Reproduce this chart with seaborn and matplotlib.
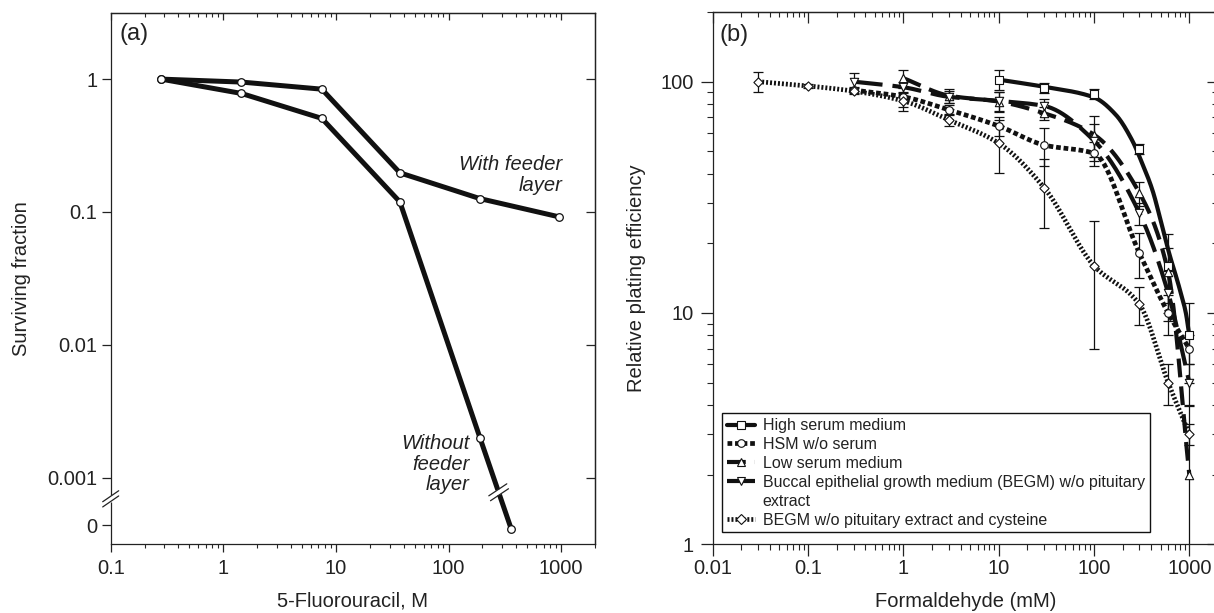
import numpy as np
import pandas as pd
import matplotlib
matplotlib.use("Agg")
import matplotlib.pyplot as plt
import seaborn as sns
from matplotlib.lines import Line2D
from matplotlib.transforms import IdentityTransform
from matplotlib.ticker import FixedLocator, FixedFormatter, LogLocator, NullFormatter, NullLocator

# ---------------- data: panel (a) 5-fluorouracil survival ----------------
fu_dose_with = [0.28, 1.45, 7.5, 37, 190, 950]
fu_surv_with = [1.0, 0.95, 0.84, 0.197, 0.126, 0.092]
fu_dose_without = [0.28, 1.45, 7.5, 37, 190, 360]
fu_surv_without = [1.0, 0.78, 0.506, 0.119, 0.002, 0.0]
surv_ticks = [1, 0.1, 0.01, 0.001]
surv_ticklabels = ["1", "0.1", "0.01", "0.001"]
fu_ticklabels = ["0.1", "1", "10", "100", "1000"]

# ---------------- data: panel (b) formaldehyde plating efficiency ----------------
hs_dose = [10, 30, 100, 300, 600, 1000]
hs_pe = [102, 94, 88.5, 51, 16, 8]
hs_err = [10, 5, 4.5, 2.5, 6, 3]
hs_fit_dose = [10, 30, 100, 170, 250, 320, 410, 520, 615, 780, 920, 1000]
hs_fit_pe = [102, 95, 85.5, 71.8, 56, 44.4, 34, 23.6, 18.1, 13, 10, 8]

hsm_dose = [0.3, 1, 3, 10, 30, 100, 300, 600, 1000]
hsm_pe = [92, 86, 75.5, 64.3, 53.2, 49, 18.1, 10, 7]
hsm_err = [3, 8, 4, 6, 10, 6, 4, 2, 1]

ls_dose = [1, 3, 10, 30, 100, 300, 600, 1000]
ls_pe = [103.5, 87, 82, 73, 59, 33, 15, 2]
ls_err = [9, 6, 8, 5, 12, 4, 4, 1.98]

begm_dose = [0.3, 1, 3, 10, 30, 100, 300, 600, 1000]
begm_pe = [100, 94.6, 86, 82.6, 78.5, 55.6, 27, 12.2, 5]
begm_err = [9, 5, 5, 8, 6, 10, 3, 3, 1]

cys_dose = [0.03, 0.1, 0.3, 1, 3, 10, 30, 100, 300, 600, 1000]
cys_pe = [100, 95.8, 91, 82.5, 68.3, 54.2, 34.8, 16, 10.9, 5.0, 3.0]
cys_err = [10, 2, 3, 8, 4, 14, 11.5, 9, 2, 1, 0.3]

legend_labels = ["High serum medium", "HSM w/o serum", "Low serum medium",
                 "Buccal epithelial growth medium (BEGM) w/o pituitary",
                 "extract", "BEGM w/o pituitary extract and cysteine"]
fa_ticklabels = ["0.01", "0.1", "1", "10", "100", "1000"]
pe_ticklabels = ["1", "10", "100"]

# ---------------- style ----------------
sns.set_theme(style="ticks")
plt.rcParams["font.family"] = ["Liberation Sans", "DejaVu Sans"]
plt.rcParams["axes.linewidth"] = 0.9
plt.rcParams["axes.edgecolor"] = "#222222"
FS = 14.5

W, H = 1214, 613
fig = plt.figure(figsize=(W / 100, H / 100), dpi=100)


def frac(x0, y0, x1, y1):
    """pixel box (top-left origin) -> figure fraction rect"""
    return [x0 / W, 1 - y1 / H, (x1 - x0) / W, (y1 - y0) / H]


ax_a = fig.add_axes(frac(110.7, 12.7, 595, 544))
ax_b = fig.add_axes(frac(712.7, 12.0, 1218, 544.3))


def smooth_loglog(xs, ys, n=40):
    """monotone cubic through the points in log-log space"""
    lx = np.log10(np.asarray(xs, float))
    ly = np.log10(np.asarray(ys, float))
    h = np.diff(lx)
    d = np.diff(ly) / h
    m = np.zeros_like(lx)
    m[0], m[-1] = d[0], d[-1]
    for k in range(1, len(lx) - 1):
        if d[k - 1] * d[k] > 0:
            w1 = 2 * h[k] + h[k - 1]
            w2 = h[k] + 2 * h[k - 1]
            m[k] = (w1 + w2) / (w1 / d[k - 1] + w2 / d[k])
    ox, oy = [], []
    for k in range(len(h)):
        t = np.linspace(0, 1, n, endpoint=(k == len(h) - 1))
        h00 = 2 * t**3 - 3 * t**2 + 1
        h10 = t**3 - 2 * t**2 + t
        h01 = -2 * t**3 + 3 * t**2
        h11 = t**3 - t**2
        ox.append(lx[k] + t * h[k])
        oy.append(h00 * ly[k] + h10 * h[k] * m[k] + h01 * ly[k + 1] + h11 * h[k] * m[k + 1])
    return 10 ** np.concatenate(ox), 10 ** np.concatenate(oy)


# ======================= panel (a) =======================
ZERO_TICK = 10 ** -3.36
ZERO_POS = 10 ** -3.385
ax_a.set_xscale("log")
ax_a.set_yscale("log")
ax_a.set_xlim(0.1, 2000)
ax_a.set_ylim(10 ** -3.5, 10 ** 0.5)

surv_without_plot = [v if v > 0 else ZERO_POS for v in fu_surv_without]
for xs, ys in [(fu_dose_with, fu_surv_with), (fu_dose_without, surv_without_plot)]:
    df = pd.DataFrame({"dose": xs, "surv": ys})
    sns.lineplot(data=df, x="dose", y="surv", ax=ax_a, color="#111111", lw=3.6,
                 estimator=None, sort=False, solid_joinstyle="miter")
    sns.scatterplot(data=df, x="dose", y="surv", ax=ax_a, marker="o", s=30,
                    facecolor="white", edgecolor="#111111", linewidth=0.9, zorder=4)

ax_a.xaxis.set_major_locator(FixedLocator([0.1, 1, 10, 100, 1000]))
ax_a.xaxis.set_major_formatter(FixedFormatter(fu_ticklabels))
ax_a.xaxis.set_minor_locator(LogLocator(base=10, subs=np.arange(2, 10)))
ax_a.xaxis.set_minor_formatter(NullFormatter())
ax_a.yaxis.set_major_locator(FixedLocator(surv_ticks + [ZERO_TICK]))
ax_a.yaxis.set_major_formatter(FixedFormatter(surv_ticklabels + ["0"]))
ax_a.yaxis.set_minor_locator(NullLocator())
ax_a.tick_params(axis="x", which="major", direction="out", length=5.5, width=0.9,
                 labelsize=FS, pad=5.5, colors="#222222")
ax_a.tick_params(axis="x", which="minor", direction="out", length=3.1, width=0.8)
ax_a.tick_params(axis="y", which="major", direction="out", length=6.5, width=0.9,
                 labelsize=FS, pad=3.2, colors="#222222")

top_a = ax_a.secondary_xaxis("top")
top_a.set_xticks([0.1, 1, 10, 100, 1000])
top_a.xaxis.set_minor_locator(LogLocator(base=10, subs=np.arange(2, 10)))
top_a.xaxis.set_minor_formatter(NullFormatter())
top_a.tick_params(axis="x", which="major", direction="in", length=5.3, width=0.9, labeltop=False)
top_a.tick_params(axis="x", which="minor", direction="in", length=2.9, width=0.8)
right_a = ax_a.secondary_yaxis("right")
right_a.set_yticks(surv_ticks)
right_a.yaxis.set_minor_locator(NullLocator())
right_a.tick_params(axis="y", which="major", direction="in", length=6.5, width=0.9, labelright=False)

ax_a.set_xlabel("5-Fluorouracil, M", fontsize=FS, color="#222222")
ax_a.set_ylabel("Surviving fraction", fontsize=FS, color="#222222")
ax_a.xaxis.set_label_coords(0.5, -0.09)
ax_a.yaxis.set_label_coords(-0.165, 0.5)
ax_a.text(0.0178, 0.96, "(a)", transform=ax_a.transAxes, fontsize=17, ha="left", va="center",
          color="#222222")
ax_a.text(0.933, 0.6945, "With feeder\nlayer", transform=ax_a.transAxes, fontsize=FS,
          style="italic", ha="right", va="center", multialignment="right",
          linespacing=1.1, color="#222222")
ax_a.text(0.7405, 0.150, "Without\nfeeder\nlayer", transform=ax_a.transAxes, fontsize=FS,
          style="italic", ha="right", va="center", multialignment="right",
          linespacing=1.1, color="#222222")

# ======================= panel (b) =======================
ax_b.set_xscale("log")
ax_b.set_yscale("log")
ax_b.set_xlim(0.01, 2000)
ax_b.set_ylim(1, 200)

series = [
    # (dose, pe, err, curve dose, curve pe, marker, marker size, lw, dash pattern)
    (hs_dose, hs_pe, hs_err, hs_fit_dose, hs_fit_pe, "s", 28, 3.0, None),
    (hsm_dose, hsm_pe, hsm_err, hsm_dose, hsm_pe, "o", 30, 3.4, (1.0, 0.6)),
    (ls_dose, ls_pe, ls_err, ls_dose, ls_pe, "^", 36, 3.0, (4.5, 2.2)),
    (begm_dose, begm_pe, begm_err, begm_dose, begm_pe, "v", 36, 3.0, (7.0, 2.4)),
    (cys_dose, cys_pe, cys_err, cys_dose, cys_pe, "D", 22, 3.4, (0.42, 0.42)),
]

handles = []
for dose, pe, err, cd, cp, mk, ms, lw, dash in series:
    sx, sy = smooth_loglog(cd, cp)
    sns.lineplot(x=sx, y=sy, ax=ax_b, color="#111111", lw=lw, estimator=None, sort=False)
    line = ax_b.lines[-1]
    if dash is not None:
        line.set_dashes(dash)
        line.set_dash_capstyle("butt")
    ax_b.errorbar(dose, pe, yerr=err, fmt="none", ecolor="#111111", elinewidth=0.9,
                  capsize=3.6, capthick=0.9, zorder=2.5)
    sns.scatterplot(x=dose, y=pe, ax=ax_b, marker=mk, s=ms, facecolor="white",
                    edgecolor="#111111", linewidth=0.8, zorder=4)
    h = Line2D([], [], color="#111111", lw=lw, marker=mk, markersize=np.sqrt(ms),
               markerfacecolor="white", markeredgecolor="#111111", markeredgewidth=0.8)
    if dash is not None:
        h.set_dashes(dash)
        h.set_dash_capstyle("butt")
    handles.append(h)

handles.insert(4, Line2D([], [], color="none", lw=0))

ax_b.xaxis.set_major_locator(FixedLocator([0.01, 0.1, 1, 10, 100, 1000]))
ax_b.xaxis.set_major_formatter(FixedFormatter(fa_ticklabels))
ax_b.xaxis.set_minor_locator(LogLocator(base=10, subs=np.arange(2, 10)))
ax_b.xaxis.set_minor_formatter(NullFormatter())
ax_b.yaxis.set_major_locator(FixedLocator([1, 10, 100]))
ax_b.yaxis.set_major_formatter(FixedFormatter(pe_ticklabels))
ax_b.yaxis.set_minor_locator(LogLocator(base=10, subs=np.arange(2, 10)))
ax_b.yaxis.set_minor_formatter(NullFormatter())
ax_b.tick_params(axis="x", which="major", direction="out", length=8.3, width=0.9,
                 labelsize=FS, pad=2.6, colors="#222222")
ax_b.tick_params(axis="x", which="minor", direction="out", length=4.0, width=0.8)
ax_b.tick_params(axis="y", which="major", direction="out", length=8.6, width=0.9,
                 labelsize=FS, pad=5.3, colors="#222222")
ax_b.tick_params(axis="y", which="minor", direction="out", length=4.3, width=0.8)

top_b = ax_b.secondary_xaxis("top")
top_b.set_xticks([0.01, 0.1, 1, 10, 100, 1000])
top_b.xaxis.set_minor_locator(LogLocator(base=10, subs=np.arange(2, 10)))
top_b.xaxis.set_minor_formatter(NullFormatter())
top_b.tick_params(axis="x", which="major", direction="in", length=8.0, width=0.9, labeltop=False)
top_b.tick_params(axis="x", which="minor", direction="in", length=3.8, width=0.8)
right_b = ax_b.secondary_yaxis("right")
right_b.set_yticks([1, 10, 100])
right_b.yaxis.set_minor_locator(LogLocator(base=10, subs=np.arange(2, 10)))
right_b.yaxis.set_minor_formatter(NullFormatter())
right_b.tick_params(axis="y", which="major", direction="in", length=8.0, width=0.9, labelright=False)
right_b.tick_params(axis="y", which="minor", direction="in", length=4.0, width=0.8)

ax_b.set_xlabel("Formaldehyde (mM)", fontsize=FS, color="#222222")
ax_b.set_ylabel("Relative plating efficiency", fontsize=FS, color="#222222")
ax_b.xaxis.set_label_coords(0.5, -0.0896)
ax_b.yaxis.set_label_coords(-0.132, 0.5)
ax_b.text(0.0144, 0.956, "(b)", transform=ax_b.transAxes, fontsize=17, ha="left", va="center",
          color="#222222")

leg = ax_b.legend(handles, legend_labels, loc="lower left", bbox_to_anchor=(0.0178, 0.0225),
                  borderaxespad=0, frameon=True, fancybox=False, edgecolor="#111111",
                  framealpha=1, fontsize=11.55, handlelength=1.8, handletextpad=0.45,
                  labelspacing=0.24, borderpad=0.3)
leg.get_frame().set_linewidth(1.0)
for t in leg.get_texts():
    t.set_color("#222222")

# ---------------- axis break marks on panel (a) ----------------
fig.canvas.draw()
ident = IdentityTransform()


def px_line(p0, p1, **kw):
    fig.add_artist(Line2D([p0[0], p1[0]], [p0[1], p1[1]], transform=ident, clip_on=False, **kw))


# break on the left spine
bx, by = ax_a.transData.transform((0.1, 10 ** -3.16))
px_line((bx, by - 3.5), (bx, by + 3.5), color="white", lw=2.5, zorder=10, solid_capstyle="butt")
for off in (-2.6, 2.6):
    px_line((bx - 8, by + off - 5.5), (bx + 8, by + off + 5.5), color="#222222", lw=0.9, zorder=11)

# break on the curve without feeder layer
p5 = ax_a.transData.transform((fu_dose_without[4], surv_without_plot[4]))
p6 = ax_a.transData.transform((fu_dose_without[5], surv_without_plot[5]))
pb = p5 + 0.6 * (p6 - p5)
u = (p6 - p5) / np.hypot(*(p6 - p5))
px_line(pb - 2.6 * u, pb + 2.6 * u, color="white", lw=5.5, zorder=10, solid_capstyle="butt")
for s in (-2.6, 2.6):
    c = pb + s * u
    px_line((c[0] - 9, c[1] - 6), (c[0] + 9, c[1] + 6), color="#222222", lw=0.9, zorder=11)

fig.savefig("out.png", dpi=100)
